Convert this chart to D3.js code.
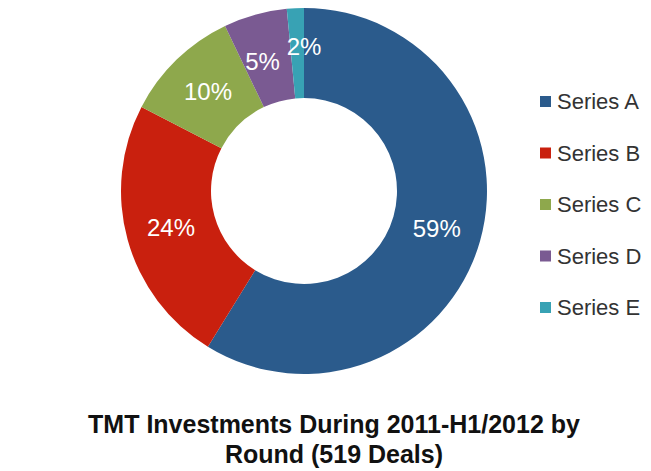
<!DOCTYPE html>
<html><head><meta charset="utf-8">
<script src="https://cdn.jsdelivr.net/npm/d3@7"></script>
<style>body{margin:0;background:#fff;}</style>
</head><body>
<svg id="c" width="651" height="471"></svg>
<script>
const series = ['Series A', 'Series B', 'Series C', 'Series D', 'Series E'];
const shares = [58.8, 23.8, 10.3, 5.6, 1.5];
const shareLabels = ['59%', '24%', '10%', '5%', '2%'];
const colors = ['#2b5b8c', '#c9200e', '#8ea84c', '#7a5a92', '#38a2b4'];

const svg = d3.select('#c');
const cx = 304, cy = 191, outerR = 183, innerR = 93;
const font = 'Liberation Sans, Arial, sans-serif';

const pie = d3.pie().sort(null).value(d => d)(shares);
const arc = d3.arc().innerRadius(innerR).outerRadius(outerR);
const g = svg.append('g').attr('transform', `translate(${cx},${cy})`);
g.selectAll('path').data(pie).enter().append('path')
  .attr('d', arc)
  .attr('fill', (d, i) => colors[i]);

g.selectAll('text').data(pie).enter().append('text')
  .attr('transform', (d, i) => {
    let a = (d.startAngle + d.endAngle) / 2;
    let r = 138;
    if (i === 4) { a = 0; r = 144; }
    if (i === 3) { a -= 0.04; r = 136; }
    return `translate(${Math.sin(a) * r},${-Math.cos(a) * r})`;
  })
  .attr('text-anchor', 'middle')
  .attr('dy', '0.35em')
  .attr('font-family', font)
  .attr('font-size', 24)
  .attr('fill', '#fff')
  .text((d, i) => shareLabels[i]);

const legend = svg.append('g').attr('transform', 'translate(540,101)');
const row = legend.selectAll('g').data(series).enter().append('g')
  .attr('transform', (d, i) => `translate(0,${i * 51.5})`);
row.append('rect').attr('x', 0).attr('y', -5).attr('width', 11).attr('height', 11)
  .attr('fill', (d, i) => colors[i]);
row.append('text').attr('x', 17).attr('dy', '0.38em')
  .attr('font-family', font)
  .attr('font-size', 22).attr('fill', '#333')
  .text(d => d);

const title = ['TMT Investments During 2011-H1/2012 by', 'Round (519 Deals)'];
svg.selectAll('.title').data(title).enter().append('text')
  .attr('class', 'title')
  .attr('x', 334).attr('y', (d, i) => 433 + i * 30)
  .attr('text-anchor', 'middle')
  .attr('font-family', font)
  .attr('font-weight', 'bold').attr('font-size', 25).attr('fill', '#111')
  .text(d => d);
</script>
</body></html>
